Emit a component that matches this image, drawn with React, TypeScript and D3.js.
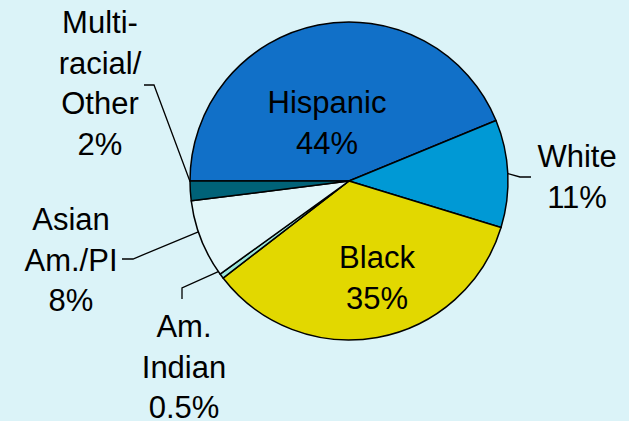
import React from "react";
import * as d3 from "d3";

const categories = ["Hispanic", "White", "Black", "Am. Indian", "Asian Am./PI", "Multi-racial/Other"];
const values = [44, 11, 35, 0.5, 8, 2];
const colors = ["#1170c8", "#0099d5", "#e2d800", "#99e6da", "#e2f6f9", "#006278"];
const labelLines = [
  ["Hispanic", "44%"],
  ["White", "11%"],
  ["Black", "35%"],
  ["Am.", "Indian", "0.5%"],
  ["Asian", "Am./PI", "8%"],
  ["Multi-", "racial/", "Other", "2%"],
];

const W = 629;
const H = 421;
const cx = 349;
const cy = 181;
const R = 159;
const lineH = 40.5;

// label layout: x center, first baseline y, optional leader (elbow point, end point, angle tweak)
const labelPos = [
  { x: 327, y: 113 },
  { x: 577, y: 167, leader: { ang: 0, elbow: [520, 177], end: [531, 177] } },
  { x: 377, y: 268 },
  { x: 184, y: 337, leader: { ang: 0.035, elbow: [182, 288], end: [182, 299] } },
  { x: 71, y: 230, leader: { ang: 0.05, elbow: [133, 259], end: [122, 259] } },
  { x: 100, y: 33, leader: { ang: 0.06, elbow: [154, 85], end: [144, 85] } },
];

export default function App() {
  const pie = d3
    .pie<number>()
    .sort(null)
    .startAngle(-Math.PI / 2)
    .endAngle((3 * Math.PI) / 2)
    .value((d) => d);
  const arcs = pie(values);
  const arc = d3.arc<d3.PieArcDatum<number>>().innerRadius(0).outerRadius(R);

  return (
    <svg
      width={W}
      height={H}
      style={{ position: "absolute", left: 0, top: 0, display: "block" }}
      fontFamily="'Liberation Sans', Arial, sans-serif"
    >
      <rect width={W} height={H} fill="#dbf3f8" />
      <g transform={`translate(${cx},${cy})`}>
        {arcs.map((a, i) => (
          <path key={categories[i]} d={arc(a) || ""} fill={colors[i]} stroke="#000" strokeWidth={1.5} strokeLinejoin="round" />
        ))}
      </g>
      {arcs.map((a, i) => {
        const lp = labelPos[i];
        if (!lp.leader) return null;
        const mid = (a.startAngle + a.endAngle) / 2 + lp.leader.ang;
        const px = cx + R * Math.sin(mid);
        const py = cy - R * Math.cos(mid);
        return (
          <polyline
            key={"l" + i}
            points={`${px},${py} ${lp.leader.elbow[0]},${lp.leader.elbow[1]} ${lp.leader.end[0]},${lp.leader.end[1]}`}
            fill="none"
            stroke="#000"
            strokeWidth={1.3}
          />
        );
      })}
      {labelLines.map((lines, i) => (
        <text key={"t" + i} x={labelPos[i].x} y={labelPos[i].y} textAnchor="middle" fontSize={31} fill="#000">
          {lines.map((ln, j) => (
            <tspan key={j} x={labelPos[i].x} y={labelPos[i].y + j * lineH}>
              {ln}
            </tspan>
          ))}
        </text>
      ))}
    </svg>
  );
}
